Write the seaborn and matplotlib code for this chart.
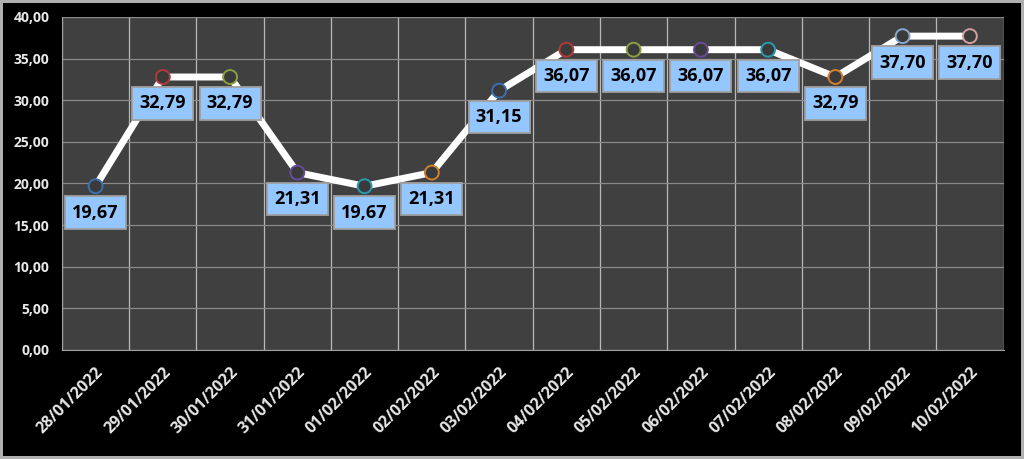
"""
Daily value line chart, dark Excel-style look.
"""
import matplotlib
matplotlib.use("Agg")
import matplotlib.pyplot as plt
import numpy as np
import pandas as pd
import seaborn as sns

# ---------------------------------------------------------------------------
# Data
# ---------------------------------------------------------------------------
dates = ["28/01/2022", "29/01/2022", "30/01/2022", "31/01/2022", "01/02/2022",
         "02/02/2022", "03/02/2022", "04/02/2022", "05/02/2022", "06/02/2022",
         "07/02/2022", "08/02/2022", "09/02/2022", "10/02/2022"]
values = [19.67, 32.79, 32.79, 21.31, 19.67, 21.31, 31.15,
          36.07, 36.07, 36.07, 36.07, 32.79, 37.70, 37.70]
ring_colors = ["#3a6fb0", "#b03a3a", "#8aa040", "#6a4a9a", "#2a9ab0", "#d08030",
               "#3a6fb0", "#b03a3a", "#8aa040", "#6a4a9a", "#2a9ab0", "#d08030",
               "#8aa8d0", "#d0a0a0"]
y_ticks = [0, 5, 10, 15, 20, 25, 30, 35, 40]

df = pd.DataFrame({"pos": np.arange(len(dates)), "value": values})

# ---------------------------------------------------------------------------
# Figure
# ---------------------------------------------------------------------------
sns.set_style("dark")
plt.rcParams["font.family"] = ["Open Sans", "DejaVu Sans"]

fig = plt.figure(figsize=(10.24, 4.59), dpi=100, facecolor="black",
                 edgecolor="#b0b0b0", linewidth=3)
ax = fig.add_axes([0.0605, 0.2375, 0.9195, 0.7255])
ax.set_facecolor("#404040")

sns.lineplot(data=df, x="pos", y="value", ax=ax, color="white", linewidth=5,
             zorder=3, legend=False)
ax.scatter(df["pos"], df["value"], s=100, c="#3a3a3a", edgecolors=ring_colors,
           linewidths=1.4, zorder=4)

for x, v in zip(df["pos"], df["value"]):
    ax.annotate(f"{v:.2f}".replace(".", ","), (x, v), xytext=(0, -19),
                textcoords="offset points", ha="center", va="center",
                fontsize=13, fontweight="bold", color="black", zorder=5,
                bbox=dict(boxstyle="square,pad=0.4", facecolor="#94c6ff",
                          edgecolor="#a0a0a0", linewidth=1.3))

ax.set_xlim(-0.5, len(dates) - 0.5)
ax.set_ylim(0, 40)
ax.set_yticks(y_ticks)
ax.set_yticklabels([f"{t:.2f}".replace(".", ",") for t in y_ticks],
                   color="#e8e8e8", fontsize=10, fontweight="bold")
ax.set_xticks(range(len(dates)))
ax.set_xticklabels(dates, rotation=45, ha="right", rotation_mode="anchor",
                   color="#e8e8e8", fontsize=11.5, fontweight="bold")
ax.set_xticks(np.arange(-0.5, len(dates), 1), minor=True)
ax.tick_params(axis="x", which="major", length=0, pad=10)
ax.tick_params(axis="x", which="minor", length=5, color="#a0a0a0")
ax.tick_params(axis="y", length=5, color="#a0a0a0", pad=4)

ax.grid(False)
ax.grid(which="minor", axis="x", color="#b8b8b8", linewidth=0.9)
ax.grid(which="major", axis="y", color="#8a8a8a", linewidth=0.9)
ax.set_axisbelow(True)
ax.set_xlabel("")
ax.set_ylabel("")
for side in ["top", "right"]:
    ax.spines[side].set_visible(False)
for side in ["left", "bottom"]:
    ax.spines[side].set_color("#a0a0a0")

fig.savefig("out.png", dpi=100, facecolor="black", edgecolor="#b0b0b0")
